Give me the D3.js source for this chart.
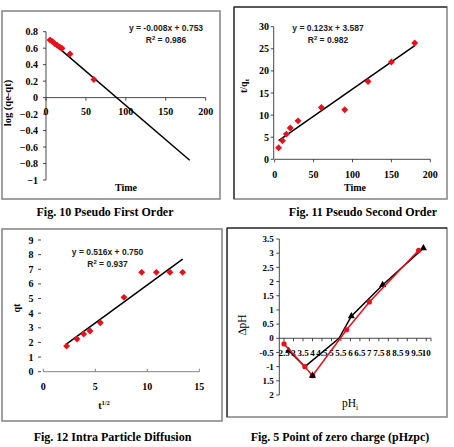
<!DOCTYPE html>
<html>
<head>
<meta charset="utf-8">
<script src="https://cdn.jsdelivr.net/npm/d3@7"></script>
<style>
  body { margin: 0; background: #fff; }
  .eq { font-family: "Liberation Sans", Arial, sans-serif; font-size: 8.5px; font-weight: bold; fill: #222; }
</style>
</head>
<body>
<svg id="chart" width="454" height="447"></svg>
<script>
// --- data ---
// Fig. 10 pseudo first order
var pfoTime = [5, 8, 11, 14, 17, 20, 30, 60];
var pfoLog  = [0.70, 0.68, 0.655, 0.635, 0.615, 0.60, 0.53, 0.22];
var pfoFitX = [3, 180];
var pfoFitY = [0.71, -0.76];
// Fig. 11 pseudo second order
var psoTime = [5, 10, 15, 20, 30, 60, 90, 120, 150, 180];
var psoTq   = [2.6, 4.2, 5.7, 7.1, 8.7, 11.7, 11.2, 17.6, 22.0, 26.3];
var psoFitX = [5, 180];
var psoFitY = [4.2, 25.7];
// Fig. 12 intra particle diffusion
var ipdRoot = [2.24, 3.24, 3.88, 4.49, 5.48, 7.76, 9.46, 10.87, 12.18, 13.4];
var ipdQt   = [1.75, 2.23, 2.57, 2.78, 3.35, 5.08, 6.79, 6.79, 6.79, 6.79];
var ipdFitX = [2.18, 13.4];
var ipdFitY = [1.87, 7.7];
// Fig. 5 point of zero charge
var redPh   = [2.5, 3.6, 4.0, 5.8, 7.0, 9.6];
var redDpH  = [-0.2, -1.0, -1.32, 0.3, 1.28, 3.1];
var blackPh  = [2.75, 3.6, 5.4, 6.05, 7.7, 9.85];
var blackDpH = [-0.44, -1.0, 0, 0.78, 1.88, 3.18];
var blackMarked = [true, false, false, true, true, true];
var blackLonePh = [4.0], blackLoneDpH = [-1.32];
var pzcTicksY = [3.5, 3, 2.5, 2, 1.5, 1, 0.5, 0, -0.5, -1, -1.5, -2];
var pzcTickLabelsY = ["3.5", "3", "2.5", "2", "1.5", "1", "0.5", "0", "-0.5", "-1", "1.5", "2"];
var pzcTicksX = [2.5, 3, 3.5, 4, 4.5, 5, 5.5, 6, 6.5, 7, 7.5, 8, 8.5, 9, 9.5, 10];

var SERIF = "'Liberation Serif', 'Times New Roman', 'DejaVu Serif', serif";
var svg = d3.select("#chart").attr("font-family", SERIF);
var RED = "#e8101a";

function frame(x0, y0, x1, y1, dark) {
  svg.append("rect").attr("x", x0).attr("y", y0)
    .attr("width", x1 - x0).attr("height", y1 - y0)
    .attr("fill", "none").attr("stroke", "#8a8a8a").attr("stroke-width", 1.6);
  if (dark) {
    // thin black left/top edge
    svg.append("path").attr("d", "M" + x0 + "," + y1 + "V" + y0 + "H" + x1)
      .attr("fill", "none").attr("stroke", "#111").attr("stroke-width", 1);
  }
}

function caption(txt, cx, y) {
  svg.append("text").attr("x", cx).attr("y", y).attr("text-anchor", "middle")
    .attr("font-family", SERIF).attr("font-size", 12).attr("font-weight", "bold").text(txt);
}

function yAxis(scale, x, ticks, labelX, fmt, size, drawLine) {
  var g = svg.append("g");
  if (drawLine !== false) {
    g.append("line").attr("x1", x).attr("x2", x)
      .attr("y1", scale(d3.min(scale.domain()))).attr("y2", scale(d3.max(scale.domain())))
      .attr("stroke", "#333").attr("stroke-width", 0.9);
  }
  ticks.forEach(function(t, i) {
    g.append("line").attr("x1", x - 3).attr("x2", x).attr("y1", scale(t)).attr("y2", scale(t))
      .attr("stroke", "#333").attr("stroke-width", 0.9);
    g.append("text").attr("x", labelX).attr("y", scale(t)).attr("dy", "0.35em")
      .attr("text-anchor", "end").attr("font-family", SERIF)
      .attr("font-size", size || 10).attr("font-weight", "bold")
      .text(fmt ? fmt(t, i) : t);
  });
}

function xAxis(scale, y, ticks, labelY, fmt, size, tickDir, color) {
  var g = svg.append("g");
  var r = scale.range();
  g.append("line").attr("x1", r[0]).attr("x2", r[1]).attr("y1", y).attr("y2", y)
    .attr("stroke", color || "#333").attr("stroke-width", 0.9);
  ticks.forEach(function(t) {
    g.append("line").attr("x1", scale(t)).attr("x2", scale(t))
      .attr("y1", y).attr("y2", y + (tickDir || 3))
      .attr("stroke", color || "#333").attr("stroke-width", 0.9);
    g.append("text").attr("x", scale(t)).attr("y", labelY).attr("text-anchor", "middle")
      .attr("font-family", SERIF)
      .attr("font-size", size || 10).attr("font-weight", "bold").text(fmt ? fmt(t) : t);
  });
}

function diamonds(xs, ys, sx, sy) {
  var sym = d3.symbol().type(d3.symbolSquare).size(24);
  svg.append("g").selectAll("path").data(xs).join("path")
    .attr("d", sym)
    .attr("transform", function(d, i) { return "translate(" + sx(d) + "," + sy(ys[i]) + ") rotate(45)"; })
    .attr("fill", RED);
}

function fitLine(xs, ys, sx, sy) {
  svg.append("line").attr("x1", sx(xs[0])).attr("y1", sy(ys[0]))
    .attr("x2", sx(xs[1])).attr("y2", sy(ys[1]))
    .attr("stroke", "#000").attr("stroke-width", 1.5);
}

function equation(l1, l2, cx, y) {
  svg.append("text").attr("class", "eq").attr("x", cx).attr("y", y).attr("text-anchor", "middle").text(l1);
  var t = svg.append("text").attr("class", "eq").attr("x", cx).attr("y", y + 11.5).attr("text-anchor", "middle");
  t.append("tspan").text("R");
  t.append("tspan").attr("font-size", 6).attr("dy", -3).text("2");
  t.append("tspan").attr("dy", 3).text(" = " + l2);
}

function title(txt, x, y, rotate, bold, size) {
  return svg.append("text")
    .attr("transform", "translate(" + x + "," + y + ")" + (rotate ? " rotate(-90)" : ""))
    .attr("text-anchor", "middle").attr("font-family", SERIF)
    .attr("font-size", size || 10).attr("font-weight", bold ? "bold" : "normal")
    .text(txt);
}

// ---------- Fig. 10 ----------
frame(2, 11, 220, 199);
var x1 = d3.scaleLinear().domain([0, 200]).range([46, 205.7]);
var y1 = d3.scaleLinear().domain([-1, 0.8]).range([180, 31.7]);
yAxis(y1, 46, d3.range(-1, 0.81, 0.2).map(function(v) { return +v.toFixed(1); }), 38,
  function(t) { return t === 0 ? "0" : d3.format("")(t); });
xAxis(x1, y1(0), [0, 50, 100, 150, 200], 115);
fitLine(pfoFitX, pfoFitY, x1, y1);
diamonds(pfoTime, pfoLog, x1, y1);
equation("y = -0.008x + 0.753", "0.986", 166, 31);
title("log (qe-qt)", 10.5, 103, true, true, 10.5);
title("Time", 126, 191, false, true);
caption("Fig. 10 Pseudo First Order", 105, 216);

// ---------- Fig. 11 ----------
frame(234, 7, 447, 199, true);
var x2 = d3.scaleLinear().domain([0, 200]).range([274.7, 430.3]);
var y2 = d3.scaleLinear().domain([0, 30]).range([159.3, 26.7]);
yAxis(y2, 273.7, [0, 5, 10, 15, 20, 25, 30], 269);
xAxis(x2, y2(0), [0, 50, 100, 150, 200], 177.5);
fitLine(psoFitX, psoFitY, x2, y2);
diamonds(psoTime, psoTq, x2, y2);
equation("y = 0.123x + 3.587", "0.982", 328, 31);
var tq = title("", 246.5, 86, true, true);
tq.append("tspan").text("t/q");
tq.append("tspan").attr("font-size", 7).attr("dy", 2).text("t");
title("Time", 355, 191, false, true);
caption("Fig. 11 Pseudo Second Order", 363, 216);

// ---------- Fig. 12 ----------
frame(2, 229, 222, 421);
var x3 = d3.scaleLinear().domain([0, 15]).range([43.3, 199.3]);
var y3 = d3.scaleLinear().domain([0, 9]).range([371.7, 240]);
yAxis(y3, 41, d3.range(0, 10), 33.5, null, 10, false);
xAxis(x3, y3(0), [0, 5, 10, 15], 390, null, 10, -3, "#777");
fitLine(ipdFitX, ipdFitY, x3, y3);
diamonds(ipdRoot, ipdQt, x3, y3);
equation("y = 0.516x + 0.750", "0.937", 107.5, 255);
title("qt", 20, 308, true, true);
var tr = title("", 104, 409, false, true);
tr.append("tspan").text("t");
tr.append("tspan").attr("font-size", 6.5).attr("dy", -4).text("1/2");
caption("Fig. 12 Intra Particle Diffusion", 112.5, 441);

// ---------- Fig. 5 ----------
frame(227, 228, 447, 417, true);
var x4 = d3.scaleLinear().domain([2.25, 10.25]).range([279.3, 431]);
var y4 = d3.scaleLinear().domain([-2, 3.5]).range([395, 239]);
yAxis(y4, 279.3, pzcTicksY, 273.7, function(t, i) { return pzcTickLabelsY[i]; }, 9);
xAxis(x4, y4(0), pzcTicksX, 356, null, 9, 3);
svg.append("line").attr("x1", x4(10.25)).attr("x2", x4(10.25)).attr("y1", y4(0)).attr("y2", y4(0) + 3)
  .attr("stroke", "#333").attr("stroke-width", 0.9);

var line4 = d3.line().x(function(d) { return x4(d[0]); }).y(function(d) { return y4(d[1]); });
var blackPts = d3.zip(blackPh, blackDpH);
var redPts = d3.zip(redPh, redDpH);
var tri = d3.symbol().type(d3.symbolTriangle).size(22);
svg.append("path").attr("d", line4(blackPts)).attr("fill", "none").attr("stroke", "#000").attr("stroke-width", 1.5);
svg.append("g").selectAll("path").data(blackPts.filter(function(d, i) { return blackMarked[i]; })).join("path").attr("d", tri)
  .attr("transform", function(d) { return "translate(" + x4(d[0]) + "," + y4(d[1]) + ")"; }).attr("fill", "#000");
svg.append("path").attr("d", line4(redPts)).attr("fill", "none").attr("stroke", RED).attr("stroke-width", 1.5);
svg.append("g").selectAll("circle").data(redPts).join("circle")
  .attr("cx", function(d) { return x4(d[0]); }).attr("cy", function(d) { return y4(d[1]); })
  .attr("r", 2.6).attr("fill", RED);
svg.append("g").selectAll("path").data(d3.zip(blackLonePh, blackLoneDpH)).join("path").attr("d", tri)
  .attr("transform", function(d) { return "translate(" + x4(d[0]) + "," + y4(d[1]) + ")"; }).attr("fill", "#000");

title("\u2206pH", 246, 325, true, false, 11.5);
var phi = title("", 350, 407, false, false, 11.5);
phi.append("tspan").text("pH");
phi.append("tspan").attr("font-size", 7.5).attr("dy", 2.5).text("i");
caption("Fig. 5 Point of zero charge (pHzpc)", 340, 441);
</script>
</body>
</html>
